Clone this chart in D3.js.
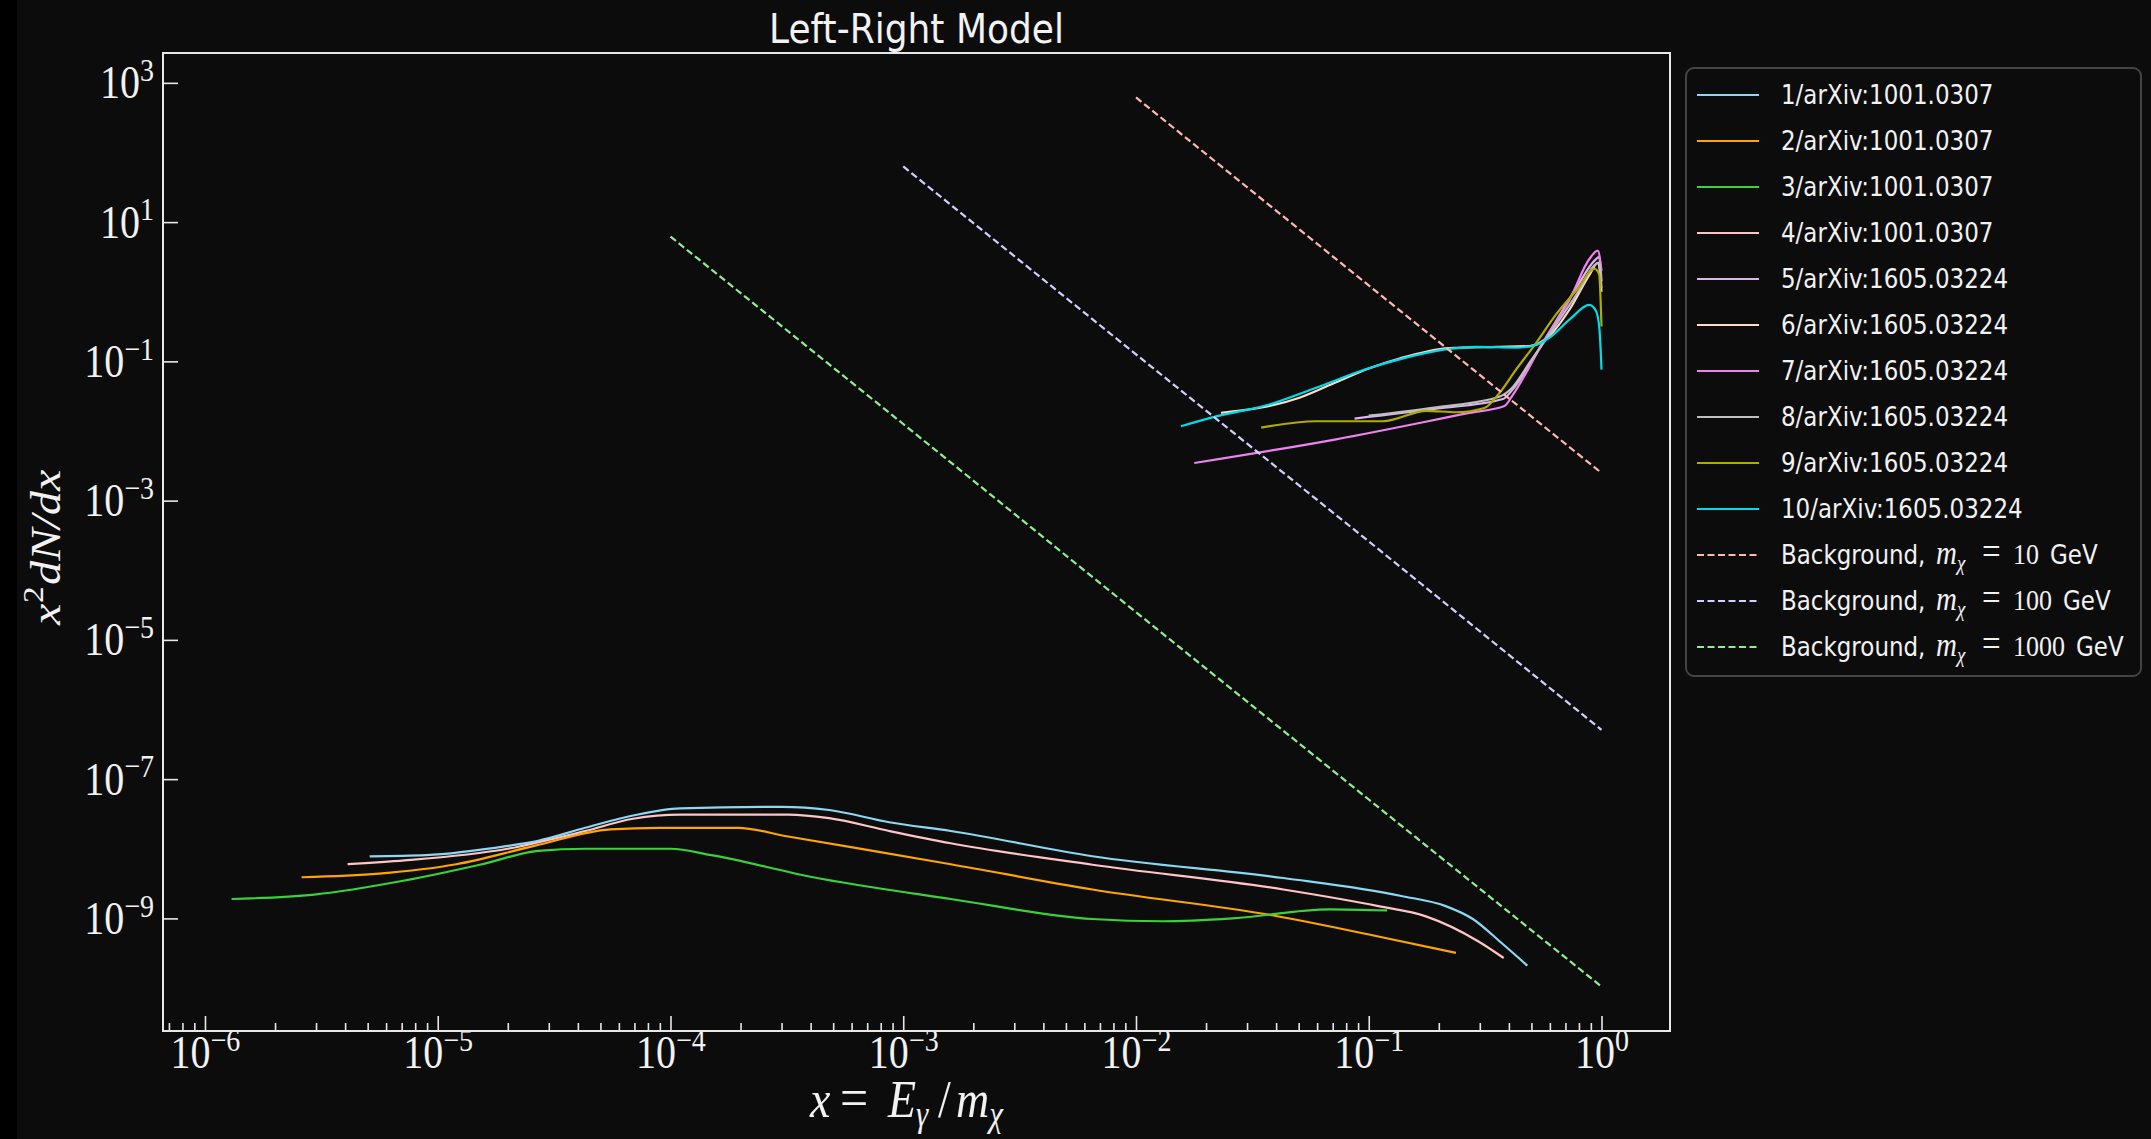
<!DOCTYPE html>
<html>
<head>
<meta charset="utf-8">
<script src="https://cdn.jsdelivr.net/npm/d3@7"></script>
<style>
  body { margin: 0; background: #000; }
  svg text { fill: #f2f2f2; }
</style>
</head>
<body>
<div id="chart"></div>
<script>
// ---- data ----
const seriesNames = [
  "1/arXiv:1001.0307", "2/arXiv:1001.0307", "3/arXiv:1001.0307", "4/arXiv:1001.0307",
  "5/arXiv:1605.03224", "6/arXiv:1605.03224", "7/arXiv:1605.03224", "8/arXiv:1605.03224",
  "9/arXiv:1605.03224", "10/arXiv:1605.03224"
];
const bgMasses = [10, 100, 1000];

const s1x = [5.1e-6, 8.9e-6, 2.0e-5, 2.7e-5, 4.3e-5, 6.9e-5, 1.1e-4, 3.0e-4, 4.8e-4, 8.7e-4, 1.6e-3, 6.5e-3, 4.3e-2, 0.138, 0.214, 0.28, 0.37, 0.48];
const s1y = [7.8e-9, 8.1e-9, 1.1e-8, 1.3e-8, 2.0e-8, 3.0e-8, 3.8e-8, 4.0e-8, 3.6e-8, 2.4e-8, 1.8e-8, 7.8e-9, 3.8e-9, 2.1e-9, 1.5e-9, 9.8e-10, 4.5e-10, 2.1e-10];
const s2x = [2.6e-6, 5.6e-6, 1.2e-5, 2.6e-5, 5.5e-5, 8.9e-5, 1.95e-4, 3.2e-4, 1.6e-3, 6.5e-3, 3.9e-2, 0.11, 0.237];
const s2y = [3.9e-9, 4.4e-9, 6.0e-9, 1.1e-8, 1.9e-8, 2.0e-8, 2.0e-8, 1.5e-8, 6.0e-9, 2.6e-9, 1.1e-9, 5.5e-10, 3.2e-10];
const s3x = [1.3e-6, 2.95e-6, 7.2e-6, 1.55e-5, 2.7e-5, 4.3e-5, 1.0e-4, 1.5e-4, 4.1e-4, 1.6e-3, 6.5e-3, 1.3e-2, 2.6e-2, 6.8e-2, 0.12];
const s3y = [1.9e-9, 2.2e-9, 3.5e-9, 6.0e-9, 9.3e-9, 1.0e-8, 1.0e-8, 8.1e-9, 3.9e-9, 1.9e-9, 9.8e-10, 9.1e-10, 1.0e-9, 1.35e-9, 1.3e-9];
const s4x = [4.1e-6, 7.2e-6, 2.0e-5, 4.3e-5, 6.9e-5, 1.1e-4, 3.2e-4, 4.8e-4, 8.7e-4, 1.6e-3, 6.5e-3, 4.3e-2, 0.11, 0.176, 0.295, 0.38];
const s4y = [6.0e-9, 6.8e-9, 1.0e-8, 1.8e-8, 2.7e-8, 3.1e-8, 3.1e-8, 2.75e-8, 1.8e-8, 1.2e-8, 5.9e-9, 2.6e-9, 1.5e-9, 1.07e-9, 4.7e-10, 2.7e-10];
const s5x = [0.0869, 0.195, 0.377, 0.416, 0.50, 0.63, 0.794, 0.933, 0.977, 1.0];
const s5y = [0.0151, 0.0209, 0.0288, 0.0398, 0.10, 0.355, 1.26, 2.8, 3.16, 1.41];
const s6x = [0.0232, 0.0504, 0.0724, 0.1, 0.1355, 0.222, 0.355, 0.49, 0.598, 0.73, 0.89, 0.964, 1.0];
const s6y = [0.0182, 0.030, 0.050, 0.079, 0.11, 0.155, 0.162, 0.166, 0.234, 0.56, 1.78, 2.6, 1.0];
const s7x = [0.0178, 0.0724, 0.271, 0.383, 0.416, 0.56, 0.73, 0.887, 0.964, 1.0];
const s7y = [0.00347, 0.0076, 0.0182, 0.0229, 0.033, 0.186, 0.776, 2.95, 3.89, 2.0];
const s8x = [0.1, 0.195, 0.363, 0.407, 0.50, 0.63, 0.794, 0.933, 0.977, 1.0];
const s8y = [0.0166, 0.0219, 0.031, 0.0398, 0.105, 0.316, 1.0, 2.4, 2.63, 1.12];
const s9x = [0.0345, 0.0594, 0.115, 0.177, 0.238, 0.314, 0.365, 0.43, 0.525, 0.63, 0.794, 0.933, 0.977, 1.0];
const s9y = [0.0112, 0.0138, 0.0138, 0.0195, 0.0186, 0.0214, 0.0355, 0.0767, 0.186, 0.447, 1.12, 2.14, 1.78, 0.316];
const s10x = [0.0156, 0.0221, 0.0374, 0.0594, 0.0977, 0.1355, 0.222, 0.288, 0.43, 0.507, 0.598, 0.73, 0.887, 0.948, 0.98, 1.0];
const s10y = [0.0117, 0.0162, 0.024, 0.0417, 0.0776, 0.107, 0.151, 0.162, 0.158, 0.166, 0.219, 0.40, 0.646, 0.525, 0.29, 0.076];

// backgrounds (straight on log-log)
const bg10x = [0.01, 0.1, 1];
const bg10y = [617, 1.23, 0.0025];
const bg100x = [0.001, 0.01, 0.1, 1];
const bg100y = [63, 0.126, 2.6e-4, 5.1e-7];
const bg1000x = [1e-4, 1e-3, 1e-2, 0.1, 1];
const bg1000y = [6.2, 0.0126, 2.5e-5, 5.1e-8, 1.05e-10];

const xTickExp = [-6, -5, -4, -3, -2, -1, 0];
const yTickExp = [-9, -7, -5, -3, -1, 1, 3];

// ---- styles ----
const colors = ["#8ad8f2", "#ffa500", "#3ad23a", "#ffc4c8", "#dcb4f0",
                "#ffdcc8", "#ee82ee", "#bfbfbf", "#b0ad00", "#00dce8"];
const bgColors = ["#ffb8b0", "#d0d0ff", "#90ee90"];

const solid = [[s1x, s1y], [s2x, s2y], [s3x, s3y], [s4x, s4y], [s5x, s5y],
               [s6x, s6y], [s7x, s7y], [s8x, s8y], [s9x, s9y], [s10x, s10y]]
  .map(([xs, ys]) => xs.map((v, i) => [v, ys[i]]));
const dashed = [[bg10x, bg10y], [bg100x, bg100y], [bg1000x, bg1000y]]
  .map(([xs, ys]) => xs.map((v, i) => [v, ys[i]]));

const W = 2151, H = 1139;
const L = 163, R = 1670, T = 53, B = 1031;
const SY = 1.15;   // text in the reference is drawn a little taller than wide

// log limits with a 5% margin like matplotlib
function logLims(vals) {
  const lo = Math.log10(d3.min(vals)), hi = Math.log10(d3.max(vals));
  const m = (hi - lo) * 0.05;
  return [Math.pow(10, lo - m), Math.pow(10, hi + m)];
}
const allPts = solid.concat(dashed).flat();
const x = d3.scaleLog().domain(logLims(allPts.map(d => d[0]))).range([L, R]);
const y = d3.scaleLog().domain(logLims(allPts.map(d => d[1]))).range([B, T]);

const svg = d3.select("#chart").append("svg")
  .attr("width", W).attr("height", H);

svg.append("rect").attr("width", W).attr("height", H).attr("fill", "#000");
svg.append("rect").attr("x", 17).attr("width", W - 17).attr("height", H).attr("fill", "#0c0c0c");

svg.append("defs").append("clipPath").attr("id", "clip")
  .append("rect").attr("x", L).attr("y", T).attr("width", R - L).attr("height", B - T);

const serif = "'Liberation Serif', 'DejaVu Serif', serif";
const sans = "'DejaVu Sans', 'Open Sans', sans-serif";

// ---- lines ----
const line = d3.line().x(d => x(d[0])).y(d => y(d[1])).curve(d3.curveMonotoneX);
const plot = svg.append("g").attr("clip-path", "url(#clip)");

plot.selectAll(".series").data(solid).join("path")
  .attr("class", "series")
  .attr("d", line)
  .attr("fill", "none")
  .attr("stroke", (d, i) => colors[i])
  .attr("stroke-width", 2.2)
  .attr("stroke-linejoin", "round");

plot.selectAll(".bg").data(dashed).join("path")
  .attr("class", "bg")
  .attr("d", d3.line().x(d => x(d[0])).y(d => y(d[1])))
  .attr("fill", "none")
  .attr("stroke", (d, i) => bgColors[i])
  .attr("stroke-width", 2.2)
  .attr("stroke-dasharray", "7,3.5");

// ---- axes ----
const minorX = [];
for (let e = -7; e <= 0; e++) for (let k = 2; k <= 9; k++) {
  const v = k * Math.pow(10, e);
  if (v >= x.domain()[0] && v <= x.domain()[1]) minorX.push(v);
}

svg.append("g").attr("transform", `translate(0,${B})`)
  .call(d3.axisBottom(x).tickValues(minorX).tickSize(-8).tickSizeOuter(0).tickFormat(""))
  .call(g => g.select(".domain").remove())
  .call(g => g.selectAll("line").attr("stroke", "#e8e8e8").attr("stroke-width", 1.6));

const gx = svg.append("g").attr("transform", `translate(0,${B})`)
  .call(d3.axisBottom(x).tickValues(xTickExp.map(e => Math.pow(10, e))).tickSize(-15).tickSizeOuter(0).tickFormat(""))
  .call(g => g.select(".domain").remove())
  .call(g => g.selectAll("line").attr("stroke", "#e8e8e8").attr("stroke-width", 1.6));

const gy = svg.append("g").attr("transform", `translate(${L},0)`)
  .call(d3.axisLeft(y).tickValues(yTickExp.map(e => Math.pow(10, e))).tickSize(-15).tickSizeOuter(0).tickFormat(""))
  .call(g => g.select(".domain").remove())
  .call(g => g.selectAll("line").attr("stroke", "#e8e8e8").attr("stroke-width", 1.6));

function powLabel(sel, e) {
  sel.append("tspan").text("10");
  sel.append("tspan").attr("dy", -15).attr("font-size", 28).text(e < 0 ? "\u2212" + (-e) : e);
}

gx.selectAll(".tick").append("text")
  .attr("transform", `translate(0,37) scale(1,${SY})`).attr("text-anchor", "middle")
  .attr("font-family", serif).attr("font-size", 40)
  .each(function(d) { powLabel(d3.select(this), Math.round(Math.log10(d))); });

gy.selectAll(".tick").append("text")
  .attr("transform", `translate(-9,15) scale(1,${SY})`).attr("text-anchor", "end")
  .attr("font-family", serif).attr("font-size", 40)
  .each(function(d) { powLabel(d3.select(this), Math.round(Math.log10(d))); });

// frame
svg.append("rect").attr("x", L).attr("y", T).attr("width", R - L).attr("height", B - T)
  .attr("fill", "none").attr("stroke", "#e8e8e8").attr("stroke-width", 2);

// ---- titles ----
svg.append("text").attr("transform", `translate(${(L + R) / 2},43) scale(1,${SY})`)
  .attr("text-anchor", "middle")
  .attr("font-family", sans).attr("font-size", 36).text("Left-Right Model");

const xl = svg.append("text").attr("transform", `translate(0,1117) scale(1,${SY})`)
  .attr("font-family", serif).attr("font-size", 46);
xl.append("tspan").attr("x", 810).attr("font-style", "italic").text("x");
xl.append("tspan").attr("x", 840).attr("font-size", 50).text("=");
xl.append("tspan").attr("x", 888).attr("font-style", "italic").text("E");
xl.append("tspan").attr("font-style", "italic").attr("font-size", 31).attr("dy", 8).text("\u03b3");
xl.append("tspan").attr("x", 938).attr("dy", -8).text("/");
xl.append("tspan").attr("x", 956).attr("font-style", "italic").text("m");
xl.append("tspan").attr("font-style", "italic").attr("font-size", 31).attr("dy", 8).text("\u03c7");

const yl = svg.append("text")
  .attr("transform", `translate(60,${(T + B) / 2}) rotate(-90) scale(${SY},1)`)
  .attr("font-family", serif).attr("font-size", 42);
const k = 1 / SY;
yl.append("tspan").attr("x", -83 * k).attr("font-style", "italic").text("x");
yl.append("tspan").attr("x", -61 * k).attr("font-size", 29).attr("dy", -17).text("2");
yl.append("tspan").attr("x", -43 * k).attr("dy", 17).attr("font-style", "italic").text("dN/dx");

// ---- legend ----
const lg = svg.append("g");
lg.append("rect").attr("x", 1686).attr("y", 68).attr("width", 455).attr("height", 608)
  .attr("rx", 8).attr("fill", "#0c0c0c").attr("stroke", "#444").attr("stroke-width", 2);

const legendItems = seriesNames.map((n, i) => ({ name: n, color: colors[i], dash: null }))
  .concat(bgMasses.map((m, i) => ({ mass: m, color: bgColors[i], dash: "7,3.5" })));

const rows = lg.selectAll(".row").data(legendItems).join("g")
  .attr("class", "row")
  .attr("transform", (d, i) => `translate(0,${95 + i * 46})`);

rows.append("line").attr("x1", 1697).attr("x2", 1759)
  .attr("stroke", d => d.color).attr("stroke-width", 2.2)
  .attr("stroke-dasharray", d => d.dash);

rows.append("text").attr("transform", `translate(0,9) scale(1,${SY})`)
  .attr("font-family", sans).attr("font-size", 23)
  .each(function(d) {
    const t = d3.select(this);
    if (d.name) { t.append("tspan").attr("x", 1781).text(d.name); return; }
    t.append("tspan").attr("x", 1781).text("Background,");
    t.append("tspan").attr("x", 1936).attr("font-family", serif).attr("font-style", "italic").attr("font-size", 29).text("m");
    t.append("tspan").attr("font-family", serif).attr("font-style", "italic").attr("font-size", 19).attr("dy", 5).text("\u03c7");
    t.append("tspan").attr("x", 1982).attr("dy", -5).attr("font-family", serif).attr("font-size", 33).text("=");
    t.append("tspan").attr("x", 2013).attr("font-family", serif).attr("font-size", 26).text(d.mass);
    t.append("tspan").attr("dx", 11).text("GeV");
  });
</script>
</body>
</html>
